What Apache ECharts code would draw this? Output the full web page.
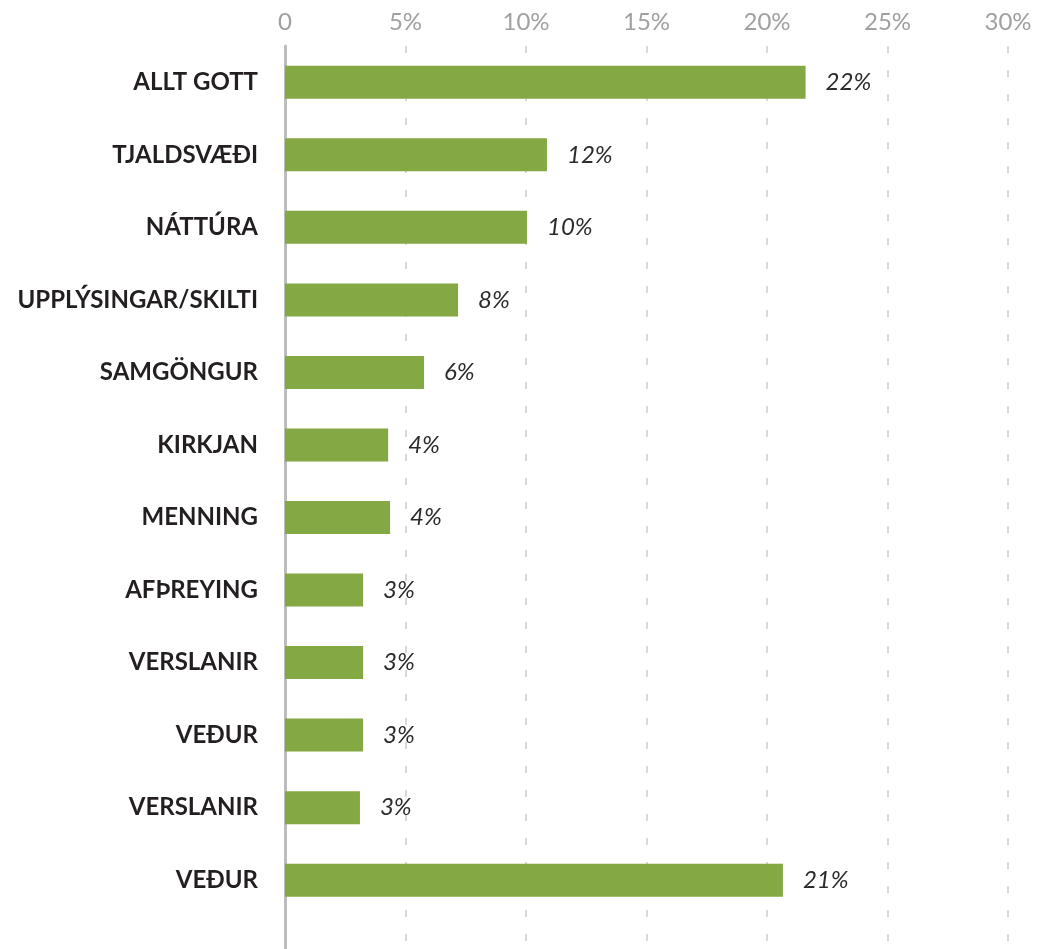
<!DOCTYPE html>
<html>
<head>
<meta charset="utf-8">
<script src="https://cdn.jsdelivr.net/npm/echarts@6/dist/echarts.min.js"></script>
<style>
  html, body { margin: 0; padding: 0; background: #fff; }
  #chart { width: 1043px; height: 949px; }
</style>
</head>
<body>
<div id="chart"></div>
<script>
// flokkar, lesið ofan frá
const categories = ['ALLT GOTT', 'TJALDSVÆÐI', 'NÁTTÚRA', 'UPPLÝSINGAR/SKILTI', 'SAMGÖNGUR',
  'KIRKJAN', 'MENNING', 'AFÞREYING', 'VERSLANIR', 'VEÐUR', 'VERSLANIR', 'VEÐUR']
// lengd súlna í %
const values = [21.6, 10.87, 10.04, 7.18, 5.77, 4.28, 4.36, 3.24, 3.24, 3.24, 3.11, 20.66]
// textinn sem stendur við súlurnar
const valueLabels = ['22%', '12%', '10%', '8%', '6%', '4%', '4%', '3%', '3%', '3%', '3%', '21%']
const xTicks = [0, 5, 10, 15, 20, 25, 30]

const chart = echarts.init(document.getElementById('chart'))

chart.setOption({
  animation: false,
  grid: {
    left: 285,
    right: 35,
    top: 46,
    height: 943,   // nær niður fyrir myndina, eins og í upprunalegu
    outerBoundsMode: 'none'
  },
  xAxis: {
    type: 'value',
    position: 'top',
    min: xTicks[0],
    max: xTicks[xTicks.length - 1],
    interval: 5,
    axisLine: {show: false},
    axisTick: {show: false},
    axisLabel: {
      margin: 12,
      fontFamily: 'Lato',
      fontSize: 24,
      color: '#a0a0a0',
      formatter: v => v === 0 ? '0' : v + '%'
    },
    splitLine: {
      lineStyle: {
        color: '#cbcbcb',
        width: 1.5,
        type: [7, 17]
      }
    }
  },
  yAxis: {
    type: 'category',
    inverse: true,
    data: categories,
    max: categories.length,   // auður reitur neðst
    axisLine: {
      show: true,
      lineStyle: {color: '#bdbdbd', width: 3}
    },
    axisTick: {show: false},
    axisLabel: {
      margin: 27,
      fontFamily: 'Lato',
      fontWeight: 'bold',
      fontSize: 24,
      color: '#231f20'
    }
  },
  series: [{
    type: 'bar',
    barWidth: 33,
    itemStyle: {color: '#84a843'},
    label: {
      show: true,
      position: 'right',
      distance: 20,
      fontFamily: 'Lato',
      fontStyle: 'italic',
      fontSize: 24,
      color: '#2b2b2b',
      formatter: p => valueLabels[p.dataIndex]
    },
    data: values
  }]
})
</script>
</body>
</html>
